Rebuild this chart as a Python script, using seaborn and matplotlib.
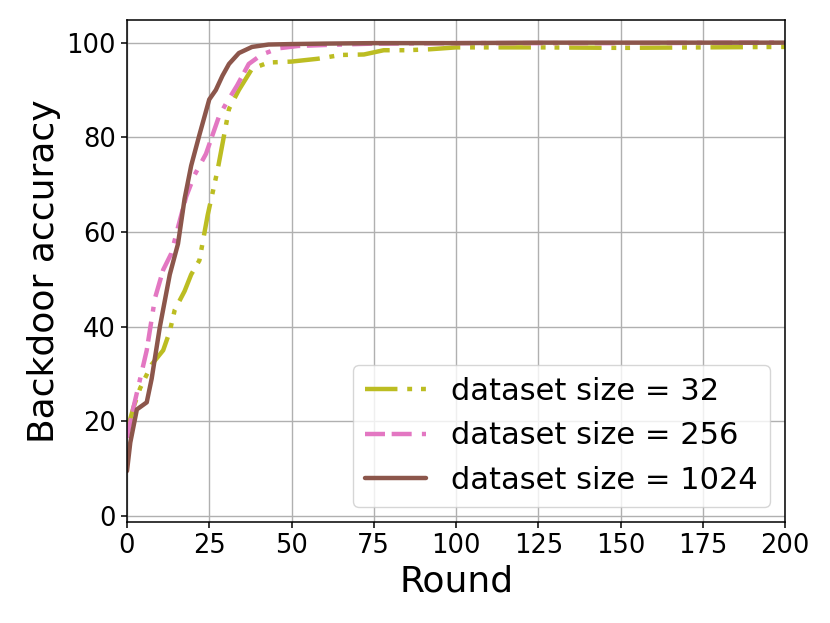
import pandas as pd
import matplotlib
matplotlib.use("Agg")
import matplotlib.pyplot as plt
import seaborn as sns

# values
rounds_32 = [0, 2, 4, 7.5, 11, 13, 14.5, 17.5, 19.5, 22, 24.5, 27.5, 31, 34, 38, 43, 50, 58, 65, 72, 78, 85, 92, 100, 125, 150, 175, 200]
acc_32 = [18, 23, 27, 32, 35, 39, 43.5, 47.5, 51, 54, 63.5, 73, 86, 90, 94.5, 95.8, 96, 96.6, 97.4, 97.5, 98.4, 98.4, 98.6, 99, 99, 98.9, 99, 99.1]

rounds_256 = [0, 2, 4, 6, 8.5, 11, 13.5, 15.5, 18, 20.5, 24, 28, 30, 33.5, 37, 41, 46, 52, 60, 75, 100, 150, 200]
acc_256 = [16.5, 23, 29, 35, 46, 52, 55.5, 61, 67.5, 72, 76.5, 84.5, 87, 91, 95.5, 97.5, 98.8, 99.3, 99.5, 99.8, 99.9, 99.9, 100]

rounds_1024 = [0, 1, 3, 6, 7.5, 10, 13, 15.5, 17.5, 19.5, 22, 25, 27, 29, 31, 34, 38, 43, 50, 60, 75, 100, 125, 150, 175, 200]
acc_1024 = [9.5, 15.5, 22.5, 24, 29, 40, 51, 57.5, 67, 74, 80.5, 88, 90, 93, 95.5, 97.8, 99.1, 99.6, 99.7, 99.8, 99.9, 99.9, 100, 100, 100, 100]

labels = ["dataset size = 32", "dataset size = 256", "dataset size = 1024"]

df = pd.concat([
    pd.DataFrame({"round": rounds_32, "acc": acc_32, "size": labels[0]}),
    pd.DataFrame({"round": rounds_256, "acc": acc_256, "size": labels[1]}),
    pd.DataFrame({"round": rounds_1024, "acc": acc_1024, "size": labels[2]}),
])

sns.set_style("ticks")
plt.rcParams["font.family"] = ["DejaVu Sans"]
plt.rcParams["text.color"] = "black"
plt.rcParams["axes.labelcolor"] = "black"

palette = {labels[0]: "#bcbd22", labels[1]: "#e377c2", labels[2]: "#8c564b"}
# dash-dot-dot, dash-dash-dot, solid
dashes = {labels[0]: (7.3, 2.2, 1.1, 2, 1.1, 2.2),
          labels[1]: (4.5, 1.5, 4.5, 2.3, 1.1, 2.3),
          labels[2]: ""}

fig = plt.figure(figsize=(8.3, 6.23), dpi=100)
ax = fig.add_axes([0.153, 0.162, 0.793, 0.806])

sns.lineplot(data=df, x="round", y="acc", hue="size", style="size",
             hue_order=labels, style_order=labels, palette=palette,
             dashes=dashes, linewidth=3.2, ax=ax, estimator=None, sort=True)

ax.set_xlim(0, 200)
ax.set_ylim(-1.3, 104.8)
ax.set_xticks([0, 25, 50, 75, 100, 125, 150, 175, 200])
ax.set_yticks([0, 20, 40, 60, 80, 100])
ax.grid(True, color="#b0b0b0", linewidth=1)
for s in ax.spines.values():
    s.set_color("black")
    s.set_linewidth(1.1)
ax.tick_params(labelsize=18.5, colors="black", length=4.5, width=1.1)
ax.set_xlabel("Round", fontsize=26, color="black")
ax.set_ylabel("Backdoor accuracy", fontsize=26, color="black")

handles, lbls = ax.get_legend_handles_labels()
leg = ax.legend(handles, lbls, loc="lower right", fontsize=22, framealpha=0.8)
for t in leg.get_texts():
    t.set_color("black")

fig.savefig("out.png", dpi=100)
